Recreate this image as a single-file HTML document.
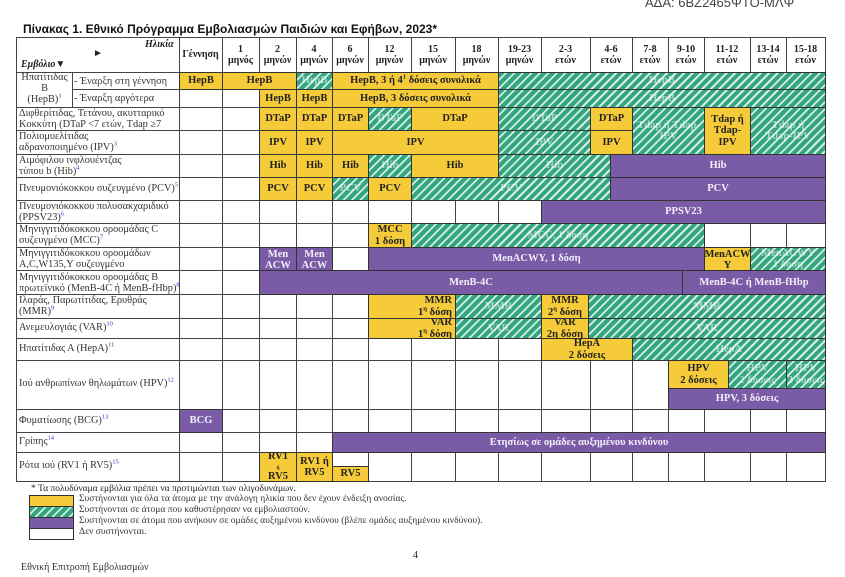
<!DOCTYPE html>
<html><head><meta charset="utf-8"><style>
body{margin:0;width:845px;height:577px;background:#fff;position:relative;overflow:hidden;font-family:"Liberation Serif",serif;color:#222}
.a{position:absolute}
.v{position:absolute;width:1px;background:#444;top:37px;height:445px}
.h{position:absolute;height:1px;background:#444;left:16px;width:810px}
.b{position:absolute;display:flex;align-items:center;justify-content:center;text-align:center;font:bold 10.5px/1.05 "Liberation Serif",serif;border:1px solid #333;box-sizing:border-box;color:#222;overflow:hidden}
.y{background:#f6cb3a}
.g{background:repeating-linear-gradient(135deg,#35a57f 0 4px,#d4efe4 4px 6px);color:rgba(255,255,255,.55)}
.p{background:#7a5ba6;color:#f2eefa}
.l{position:absolute;font:10.3px/1.1 "Liberation Serif",serif;color:#333;left:19px;white-space:nowrap}
.l sup,.b sup{font-size:6.5px;line-height:0}
.l sup{color:#33c}
.hd{position:absolute;top:38px;height:34px;display:flex;align-items:center;justify-content:center;text-align:center;font:bold 10px/1.15 "Liberation Serif",serif}
</style></head><body>
<div class="a" style="left:645px;top:-5px;font:13px 'Liberation Sans',sans-serif;color:#444">ΑΔΑ: 6ΒΖ2465ΨΤΟ-ΜΛΨ</div>
<div class="a" style="left:23px;top:22px;font:bold 12px 'Liberation Sans',sans-serif;color:#111">Πίνακας 1. Εθνικό Πρόγραμμα Εμβολιασμών Παιδιών και Εφήβων, 2023*</div>

<div class="v" style="left:16px"></div><div class="v" style="left:179px"></div><div class="v" style="left:222px"></div><div class="v" style="left:259px"></div><div class="v" style="left:296px"></div><div class="v" style="left:332px"></div><div class="v" style="left:368px"></div><div class="v" style="left:411px"></div><div class="v" style="left:455px"></div><div class="v" style="left:498px"></div><div class="v" style="left:541px"></div><div class="v" style="left:590px"></div><div class="v" style="left:632px"></div><div class="v" style="left:668px"></div><div class="v" style="left:704px"></div><div class="v" style="left:750px"></div><div class="v" style="left:786px"></div><div class="v" style="left:825px"></div>
<div class="a" style="left:72px;top:72px;width:1px;height:35px;background:#444"></div>
<div class="h" style="top:37px"></div><div class="h" style="top:72px"></div><div class="h" style="top:89px;left:72px;width:754px"></div><div class="h" style="top:107px"></div><div class="h" style="top:130px"></div><div class="h" style="top:154px"></div><div class="h" style="top:177px"></div><div class="h" style="top:200px"></div><div class="h" style="top:223px"></div><div class="h" style="top:247px"></div><div class="h" style="top:270px"></div><div class="h" style="top:294px"></div><div class="h" style="top:318px"></div><div class="h" style="top:338px"></div><div class="h" style="top:360px"></div><div class="h" style="top:409px"></div><div class="h" style="top:432px"></div><div class="h" style="top:452px"></div><div class="h" style="top:481px"></div>

<div class="a" style="left:145px;top:39px;font:bold italic 10px 'Liberation Serif',serif">Ηλικία</div>
<div class="a" style="left:93px;top:48px;font:10px sans-serif">►</div>
<div class="a" style="left:21px;top:59px;font:bold italic 10px 'Liberation Serif',serif">Εμβόλιο▼</div>
<div class="hd" style="left:179px;width:43px">Γέννηση</div>
<div class="hd" style="left:222px;width:37px">1<br>μηνός</div>
<div class="hd" style="left:259px;width:37px">2<br>μηνών</div>
<div class="hd" style="left:296px;width:36px">4<br>μηνών</div>
<div class="hd" style="left:332px;width:36px">6<br>μηνών</div>
<div class="hd" style="left:368px;width:43px">12<br>μηνών</div>
<div class="hd" style="left:411px;width:44px">15<br>μηνών</div>
<div class="hd" style="left:455px;width:43px">18<br>μηνών</div>
<div class="hd" style="left:498px;width:43px">19-23<br>μηνών</div>
<div class="hd" style="left:541px;width:49px">2-3<br>ετών</div>
<div class="hd" style="left:590px;width:42px">4-6<br>ετών</div>
<div class="hd" style="left:632px;width:36px">7-8<br>ετών</div>
<div class="hd" style="left:668px;width:36px">9-10<br>ετών</div>
<div class="hd" style="left:704px;width:46px">11-12<br>ετών</div>
<div class="hd" style="left:750px;width:36px">13-14<br>ετών</div>
<div class="hd" style="left:786px;width:39px">15-18<br>ετών</div>

<div class="l" style="left:17px;top:73px;width:55px;text-align:center;line-height:1.05">Ηπατίτιδας<br>B<br>(HepB)<sup>1</sup></div>
<div class="l" style="left:74px;top:76px">- Έναρξη στη γέννηση</div>
<div class="l" style="left:74px;top:93px">- Έναρξη αργότερα</div>
<div class="l" style="top:108px">Διφθερίτιδας, Τετάνου, ακυτταρικό<br>Κοκκύτη (DTaP &lt;7 ετών, Tdap ≥7</div>
<div class="l" style="top:131px">Πολιομυελίτιδας<br>αδρανοποιημένο (IPV)<sup>3</sup></div>
<div class="l" style="top:155px">Αιμόφιλου ινφλουέντζας<br>τύπου b (Hib)<sup>4</sup></div>
<div class="l" style="top:183px">Πνευμονιόκοκκου συζευγμένο (PCV)<sup>5</sup></div>
<div class="l" style="top:201px">Πνευμονιόκοκκου πολυσακχαριδικό<br>(PPSV23)<sup>6</sup></div>
<div class="l" style="top:224px">Μηνιγγιτιδόκοκκου οροομάδας C<br>συζευγμένο (MCC)<sup>7</sup></div>
<div class="l" style="top:248px">Μηνιγγιτιδόκοκκου οροομάδων<br>A,C,W135,Y συζευγμένο</div>
<div class="l" style="top:272px">Μηνιγγιτιδόκοκκου οροομάδας Β<br>πρωτεϊνικό (MenB-4C ή MenB-fHbp)<sup>8</sup></div>
<div class="l" style="top:295px">Ιλαράς, Παρωτίτιδας, Ερυθράς<br>(MMR)<sup>9</sup></div>
<div class="l" style="top:322px">Ανεμευλογιάς (VAR)<sup>10</sup></div>
<div class="l" style="top:343px">Ηπατίτιδας Α (HepA)<sup>11</sup></div>
<div class="l" style="top:378px">Ιού ανθρωπίνων θηλωμάτων (HPV)<sup>12</sup></div>
<div class="l" style="top:415px">Φυματίωσης (BCG)<sup>13</sup></div>
<div class="l" style="top:436px">Γρίπης<sup>14</sup></div>
<div class="l" style="top:460px">Ρότα ιού (RV1 ή RV5)<sup>15</sup></div>

<div class="b y" style="left:179px;top:72px;width:44px;height:18px">HepB</div>
<div class="b y" style="left:222px;top:72px;width:75px;height:18px">HepB</div>
<div class="b g" style="left:296px;top:72px;width:37px;height:18px">HepB</div>
<div class="b y" style="left:332px;top:72px;width:167px;height:18px"><span>HepB, 3 ή 4<sup>1</sup> δόσεις συνολικά</span></div>
<div class="b g" style="left:498px;top:72px;width:328px;height:18px">HepB</div>
<div class="b y" style="left:259px;top:89px;width:38px;height:19px">HepB</div>
<div class="b y" style="left:296px;top:89px;width:37px;height:19px">HepB</div>
<div class="b y" style="left:332px;top:89px;width:167px;height:19px">HepB, 3 δόσεις συνολικά</div>
<div class="b g" style="left:498px;top:89px;width:328px;height:19px">HepB</div>
<div class="b y" style="left:259px;top:107px;width:38px;height:24px">DTaP</div>
<div class="b y" style="left:296px;top:107px;width:37px;height:24px">DTaP</div>
<div class="b y" style="left:332px;top:107px;width:37px;height:24px">DTaP</div>
<div class="b g" style="left:368px;top:107px;width:44px;height:24px">DTaP</div>
<div class="b y" style="left:411px;top:107px;width:88px;height:24px">DTaP</div>
<div class="b g" style="left:498px;top:107px;width:93px;height:24px">DTaP</div>
<div class="b y" style="left:590px;top:107px;width:43px;height:24px">DTaP</div>
<div class="b g" style="left:632px;top:107px;width:73px;height:48px">Tdap ή Tdap-<br>IPV</div>
<div class="b y" style="left:704px;top:107px;width:47px;height:48px">Tdap ή<br>Tdap-<br>IPV</div>
<div class="b g" style="left:750px;top:107px;width:76px;height:48px">Tdap ή<br>Tdap-IPV</div>
<div class="b y" style="left:259px;top:130px;width:38px;height:25px">IPV</div>
<div class="b y" style="left:296px;top:130px;width:37px;height:25px">IPV</div>
<div class="b y" style="left:332px;top:130px;width:167px;height:25px">IPV</div>
<div class="b g" style="left:498px;top:130px;width:93px;height:25px">IPV</div>
<div class="b y" style="left:590px;top:130px;width:43px;height:25px">IPV</div>
<div class="b y" style="left:259px;top:154px;width:38px;height:24px">Hib</div>
<div class="b y" style="left:296px;top:154px;width:37px;height:24px">Hib</div>
<div class="b y" style="left:332px;top:154px;width:37px;height:24px">Hib</div>
<div class="b g" style="left:368px;top:154px;width:44px;height:24px">Hib</div>
<div class="b y" style="left:411px;top:154px;width:88px;height:24px">Hib</div>
<div class="b g" style="left:498px;top:154px;width:113px;height:24px">Hib</div>
<div class="b p" style="left:610px;top:154px;width:216px;height:24px">Hib</div>
<div class="b y" style="left:259px;top:177px;width:38px;height:24px">PCV</div>
<div class="b y" style="left:296px;top:177px;width:37px;height:24px">PCV</div>
<div class="b g" style="left:332px;top:177px;width:37px;height:24px">PCV</div>
<div class="b y" style="left:368px;top:177px;width:44px;height:24px">PCV</div>
<div class="b g" style="left:411px;top:177px;width:200px;height:24px">PCV</div>
<div class="b p" style="left:610px;top:177px;width:216px;height:24px">PCV</div>
<div class="b p" style="left:541px;top:200px;width:285px;height:24px">PPSV23</div>
<div class="b y" style="left:368px;top:223px;width:44px;height:25px">MCC<br>1 δόση</div>
<div class="b g" style="left:411px;top:223px;width:294px;height:25px">MCC, 1 δόση</div>
<div class="b p" style="left:259px;top:247px;width:38px;height:24px;align-items:flex-start;padding-top:1px">Men<br>ACW</div>
<div class="b p" style="left:296px;top:247px;width:37px;height:24px;align-items:flex-start;padding-top:1px">Men<br>ACW</div>
<div class="b p" style="left:368px;top:247px;width:337px;height:24px">MenACWY, 1 δόση</div>
<div class="b y" style="left:704px;top:247px;width:47px;height:24px;align-items:flex-start;padding-top:1px">MenACW<br>Y</div>
<div class="b g" style="left:750px;top:247px;width:76px;height:24px">MenACWY<br>1 δόση</div>
<div class="b p" style="left:259px;top:270px;width:424px;height:25px">MenB-4C</div>
<div class="b p" style="left:682px;top:270px;width:144px;height:25px">MenB-4C ή MenB-fHbp</div>
<div class="b y" style="left:368px;top:294px;width:88px;height:25px;justify-content:flex-end;padding-right:3px"><span style="text-align:right">MMR<br>1<sup>η</sup> δόση</span></div>
<div class="b g" style="left:455px;top:294px;width:87px;height:25px">MMR</div>
<div class="b y" style="left:541px;top:294px;width:48px;height:25px"><span>MMR<br>2<sup>η</sup> δόση</span></div>
<div class="b g" style="left:588px;top:294px;width:238px;height:25px">MMR</div>
<div class="b y" style="left:368px;top:318px;width:88px;height:21px;justify-content:flex-end;padding-right:3px"><span style="text-align:right">VAR<br>1<sup>η</sup> δόση</span></div>
<div class="b g" style="left:455px;top:318px;width:87px;height:21px">VAR</div>
<div class="b y" style="left:541px;top:318px;width:48px;height:21px">VAR<br>2η δόση</div>
<div class="b g" style="left:588px;top:318px;width:238px;height:21px">VAR</div>
<div class="b y" style="left:541px;top:338px;width:92px;height:23px">HepA<br>2 δόσεις</div>
<div class="b g" style="left:632px;top:338px;width:194px;height:23px">HepA</div>
<div class="b y" style="left:668px;top:360px;width:61px;height:29px">HPV<br>2 δόσεις</div>
<div class="b g" style="left:728px;top:360px;width:59px;height:29px">HPV<br>2 δόσεις</div>
<div class="b g" style="left:786px;top:360px;width:40px;height:29px">HPV<br>3 δόσεις</div>
<div class="b p" style="left:668px;top:388px;width:158px;height:22px">HPV, 3 δόσεις</div>
<div class="b p" style="left:179px;top:409px;width:44px;height:24px">BCG</div>
<div class="b p" style="left:332px;top:432px;width:494px;height:21px">Ετησίως σε ομάδες αυξημένου κινδύνου</div>
<div class="b y" style="left:259px;top:452px;width:38px;height:30px;line-height:0.95"><span>RV1<br><span style="font-size:5px;line-height:5px">ή</span><br>RV5</span></div>
<div class="b y" style="left:296px;top:452px;width:37px;height:30px">RV1 ή<br>RV5</div>
<div class="b y" style="left:332px;top:466px;width:37px;height:16px">RV5</div>

<div class="a" style="left:31px;top:484px;font:9.5px 'Liberation Serif',serif">* Τα πολυδύναμα εμβόλια πρέπει να προτιμώνται των ολιγοδυνάμων.</div>
<div class="a y" style="left:29px;top:495px;width:43px;height:10px;border:1px solid #333"></div>
<div class="a g" style="left:29px;top:506px;width:43px;height:10px;border:1px solid #333"></div>
<div class="a p" style="left:29px;top:517px;width:43px;height:10px;border:1px solid #333"></div>
<div class="a" style="left:29px;top:528px;width:43px;height:10px;border:1px solid #333"></div>
<div class="a" style="left:79px;top:494px;font:9.5px/11px 'Liberation Serif',serif;color:#333">Συστήνονται για όλα τα άτομα με την ανάλογη ηλικία που δεν έχουν ένδειξη ανοσίας.<br>Συστήνονται σε άτομα που καθυστέρησαν να εμβολιαστούν.<br>Συστήνονται σε άτομα που ανήκουν σε ομάδες αυξημένου κινδύνου (βλέπε ομάδες αυξημένου κινδύνου).<br>Δεν συστήνονται.</div>
<div class="a" style="left:413px;top:550px;font:10px 'Liberation Serif',serif">4</div>
<div class="a" style="left:21px;top:562px;font:10px 'Liberation Serif',serif;color:#333">Εθνική Επιτροπή Εμβολιασμών</div>
</body></html>
